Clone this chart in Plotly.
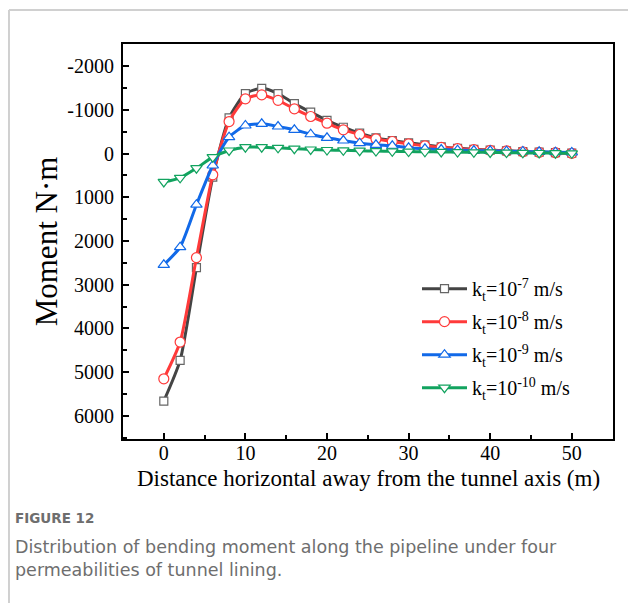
import plotly.graph_objects as go

x_dist = [0, 2, 4, 6, 8, 10, 12, 14, 16, 18, 20, 22, 24, 26, 28, 30, 32, 34, 36, 38, 40, 42, 44, 46, 48, 50]
m_k7 = [5660, 4730, 2610, 540, -815, -1370, -1490, -1370, -1140, -945, -755, -600, -465, -358, -297, -244, -198, -150, -118, -95, -78, -62, -45, -30, -22, -8]
m_k8 = [5150, 4310, 2380, 487, -730, -1250, -1340, -1215, -1021, -846, -693, -541, -434, -335, -274, -221, -175, -140, -110, -88, -72, -58, -40, -26, -18, -5]
m_k9 = [2545, 2140, 1170, 274, -373, -640, -678, -617, -541, -440, -358, -297, -236, -198, -175, -130, -107, -91, -76, -68, -61, -53, -46, -38, -30, -23]
m_k10 = [650, 556, 335, 84, -69, -145, -145, -130, -110, -92, -80, -72, -64, -56, -50, -45, -40, -36, -32, -28, -24, -20, -16, -12, -8, -4]

names = ["k<sub>t</sub>=10<sup>-7</sup> m/s", "k<sub>t</sub>=10<sup>-8</sup> m/s",
         "k<sub>t</sub>=10<sup>-9</sup> m/s", "k<sub>t</sub>=10<sup>-10</sup> m/s"]
series = [m_k7, m_k8, m_k9, m_k10]
line_colors = ["#444444", "#ff3a3a", "#1169e8", "#12a35f"]
marker_edges = ["#666666", "#ff3a3a", "#1169e8", "#12a35f"]
symbols = ["square", "circle", "triangle-up", "triangle-down"]
msizes = [8, 10, 10, 10]

y_ticks = [-2000, -1000, 0, 1000, 2000, 3000, 4000, 5000, 6000]
y_ticktext = ["-2000", "-1000", "0", "1000", "2000", "3000", "4000", "5000", "6000"]
x_ticks = [0, 10, 20, 30, 40, 50]

fig = go.Figure()
for i, (name, ys, lc, me, sym, ms) in enumerate(zip(names, series, line_colors, marker_edges, symbols, msizes)):
    fig.add_trace(go.Scatter(
        x=x_dist, y=ys, name=name, mode="lines+markers", legendgroup=f"g{i}",
        line=dict(color=lc, width=3, shape="spline", smoothing=0.6),
        marker=dict(symbol=sym, size=ms, color="white",
                    line=dict(color=me, width=1.2)),
    ))

serif = "Liberation Serif, Times New Roman, serif"
fig.update_layout(
    width=636, height=603,
    margin=dict(l=115, r=31, t=36, b=172),
    paper_bgcolor="white", plot_bgcolor="white",
    font=dict(family=serif, color="black", size=20),
    showlegend=True,
    legend=dict(x=0.6, y=0.43, xanchor="left", yanchor="top",
                bgcolor="rgba(0,0,0,0)", font=dict(size=20, family=serif),
                tracegroupgap=4, itemwidth=45),
    xaxis=dict(range=[-5, 55.05], tickvals=x_ticks, ticks="inside", ticklen=6, tickwidth=2,
               tickcolor="black", showline=True, linecolor="black", linewidth=2, mirror=True,
               showgrid=False, zeroline=False, ticklabelstandoff=-5,
               minor=dict(ticks="inside", ticklen=4, tickwidth=2, dtick=5, tick0=0, tickcolor="black"),
               tickfont=dict(size=20, family=serif)),
    yaxis=dict(range=[6526, -2503], tickvals=y_ticks, ticktext=y_ticktext, ticks="inside",
               ticklen=6, tickwidth=2, tickcolor="black", showline=True, linecolor="black",
               linewidth=2, mirror=True, showgrid=False, zeroline=False, ticklabelstandoff=3,
               minor=dict(ticks="inside", ticklen=4, tickwidth=2, dtick=500, tick0=0, tickcolor="black"),
               tickfont=dict(size=20, family=serif),
               title=dict(text="Moment N·m", font=dict(size=31, family=serif), standoff=0)),
)

# x-axis title
fig.add_annotation(text="Distance horizontal away from the tunnel axis (m)", xref="paper", yref="paper",
                   x=0.5, y=-0.1, xanchor="center", yanchor="middle", showarrow=False,
                   font=dict(size=23, family=serif, color="black"))

# figure frame (light gray) at top and left
fig.add_shape(type="line", xref="paper", yref="paper", x0=-0.2327, x1=1.08, y0=1.086, y1=1.086,
              line=dict(color="#d0d0d0", width=2))
fig.add_shape(type="line", xref="paper", yref="paper", x0=-0.2327, x1=-0.2327, y0=1.086, y1=-0.45,
              line=dict(color="#d0d0d0", width=2))

sans = "DejaVu Sans, sans-serif"
fig.add_annotation(text="FIGURE 12", xref="paper", yref="paper", x=-0.2245, y=-0.2,
                   xanchor="left", yanchor="middle", showarrow=False,
                   font=dict(family=sans, size=13.5, color="#6e6e6e", weight=600))
fig.add_annotation(text="Distribution of bending moment along the pipeline under four<br>permeabilities of tunnel lining.",
                   xref="paper", yref="paper", x=-0.2245, y=-0.2425, xanchor="left", yanchor="top",
                   align="left", showarrow=False,
                   font=dict(family=sans, size=17.5, color="#6e6e6e"))

fig.write_html("out.html")
